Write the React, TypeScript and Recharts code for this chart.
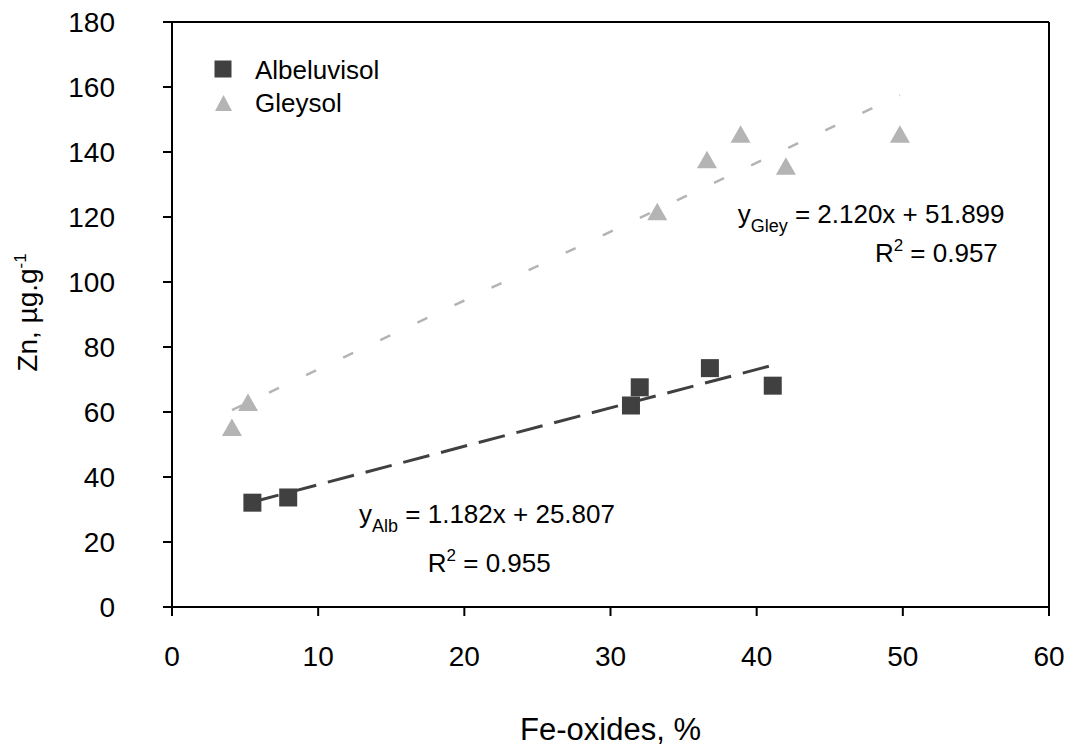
import { ScatterChart, Scatter, XAxis, YAxis, ReferenceLine, ReferenceDot, Legend } from 'recharts';

const FONT = '"Liberation Sans", Arial, sans-serif';

const xTicks = [0, 10, 20, 30, 40, 50, 60];
const yTicks = [0, 20, 40, 60, 80, 100, 120, 140, 160, 180];

// Albeluvisol samples
const albFe = [5.5, 7.95, 31.4, 32.0, 36.8, 41.1];
const albZn = [32.1, 33.7, 62.0, 67.6, 73.5, 68.1];

// Gleysol samples
const gleyFe = [4.1, 5.2, 33.2, 36.6, 38.9, 42.0, 49.8];
const gleyZn = [55.2, 62.9, 121.6, 137.6, 145.5, 135.6, 145.5];

// fitted lines as printed on the chart
const albFit = { slope: 1.182, intercept: 25.807, r2: '0.955' };
const gleyFit = { slope: 2.12, intercept: 51.899, r2: '0.957' };

const ALB_COLOR = '#404040';
const GLEY_COLOR = '#b4b4b4';

const albData = albFe.map((x, i) => ({ x, y: albZn[i] }));
const gleyData = gleyFe.map((x, i) => ({ x, y: gleyZn[i] }));

const trend = (xs: number[], fit: { slope: number; intercept: number }) => {
  const lo = Math.min(...xs);
  const hi = Math.max(...xs);
  return [
    { x: lo, y: fit.slope * lo + fit.intercept },
    { x: hi, y: fit.slope * hi + fit.intercept },
  ];
};

const albTrend = trend(albFe, albFit);
const gleyTrend = trend(gleyFe, gleyFit);

const Square = (props: any) => {
  const { cx, cy } = props;
  return <rect x={cx - 9} y={cy - 9} width={18} height={18} fill={ALB_COLOR} />;
};

const Triangle = (props: any) => {
  const { cx, cy } = props;
  return (
    <polygon
      points={`${cx},${cy - 9} ${cx + 10},${cy + 8.5} ${cx - 10},${cy + 8.5}`}
      fill={GLEY_COLOR}
    />
  );
};

const NoShape = () => <g />;

const EquationLabel = ({ viewBox, sub, rest }: any) => {
  const x = viewBox.x + viewBox.width / 2;
  const y = viewBox.y + viewBox.height / 2;
  return (
    <text x={x} y={y} fontFamily={FONT} fontSize={26} fill="#000">
      y
      <tspan dy={9} fontSize={18}>
        {sub}
      </tspan>
      <tspan dy={-9} fontSize={26}>
        {rest}
      </tspan>
    </text>
  );
};

const R2Label = ({ viewBox, value, anchor }: any) => {
  const x = viewBox.x + viewBox.width / 2;
  const y = viewBox.y + viewBox.height / 2;
  return (
    <text x={x} y={y} fontFamily={FONT} fontSize={26} fill="#000" textAnchor={anchor}>
      R
      <tspan dy={-11} fontSize={17}>
        2
      </tspan>
      <tspan dy={11} fontSize={26}>
        {' = ' + value}
      </tspan>
    </text>
  );
};

const LegendBox = () => (
  <div style={{ fontFamily: FONT, fontSize: 26, color: '#000' }}>
    <div style={{ display: 'flex', alignItems: 'center', height: 34 }}>
      <svg width={19} height={19} style={{ marginRight: 22 }}>
        <rect x={0.5} y={0.5} width={17} height={17} fill={ALB_COLOR} />
      </svg>
      <span style={{ lineHeight: '34px', position: 'relative', top: 1 }}>Albeluvisol</span>
    </div>
    <div style={{ display: 'flex', alignItems: 'center', height: 34 }}>
      <svg width={19} height={19} style={{ marginRight: 22 }}>
        <polygon points="9.5,1 18,17 1,17" fill={GLEY_COLOR} />
      </svg>
      <span style={{ lineHeight: '34px' }}>Gleysol</span>
    </div>
  </div>
);

const App = () => {
  return (
    <div style={{ position: 'absolute', left: 0, top: 0, background: '#fff' }}>
      <ScatterChart
        width={1071}
        height={748}
        margin={{ top: 22, right: 22, bottom: 0, left: 0 }}
      >
        <XAxis
          type="number"
          dataKey="x"
          domain={[0, 60]}
          ticks={xTicks}
          interval={0}
          tickSize={9}
          tickMargin={30}
          height={141}
          axisLine={{ stroke: '#000', strokeWidth: 2 }}
          tickLine={{ stroke: '#000', strokeWidth: 2 }}
          tick={{ fill: '#000', fontSize: 28, fontFamily: FONT }}
          label={{
            content: ({ viewBox }: any) => (
              <text
                x={viewBox.x + viewBox.width / 2}
                y={viewBox.y + 133}
                textAnchor="middle"
                fontFamily={FONT}
                fontSize={31}
                fill="#000"
              >
                Fe-oxides, %
              </text>
            ),
          }}
        />
        <YAxis
          type="number"
          dataKey="y"
          domain={[0, 180]}
          ticks={yTicks}
          interval={0}
          tickSize={9}
          tickMargin={48}
          width={172}
          axisLine={{ stroke: '#000', strokeWidth: 2 }}
          tickLine={{ stroke: '#000', strokeWidth: 2 }}
          tick={{ fill: '#000', fontSize: 28, fontFamily: FONT }}
          label={{
            content: ({ viewBox }: any) => {
              const cx = 37;
              const cy = viewBox.y + viewBox.height / 2 - 2;
              return (
                <text
                  x={cx}
                  y={cy}
                  transform={`rotate(-90 ${cx} ${cy})`}
                  textAnchor="middle"
                  fontFamily={FONT}
                  fontSize={28}
                  fill="#000"
                >
                  Zn, µg.g
                  <tspan dy={-11} fontSize={17}>
                    -1
                  </tspan>
                </text>
              );
            },
          }}
        />
        <ReferenceLine y={180} stroke="#000" strokeWidth={2} />
        <ReferenceLine x={60} stroke="#000" strokeWidth={2} />

        <Scatter
          name="Albeluvisol"
          data={albData}
          shape={Square}
          isAnimationActive={false}
        />
        <Scatter
          name="Gleysol"
          data={gleyData}
          shape={Triangle}
          isAnimationActive={false}
        />
        <Scatter
          data={albTrend}
          shape={NoShape}
          line={{ stroke: ALB_COLOR, strokeWidth: 3, strokeDasharray: '27 12' }}
          legendType="none"
          isAnimationActive={false}
        />
        <Scatter
          data={gleyTrend}
          shape={NoShape}
          line={{ stroke: GLEY_COLOR, strokeWidth: 2.5, strokeDasharray: '11 30' }}
          legendType="none"
          isAnimationActive={false}
        />

        <ReferenceDot
          x={38.7}
          y={118.2}
          r={1}
          fill="none"
          stroke="none"
          label={{
            content: (p: any) => (
              <EquationLabel viewBox={p.viewBox} sub="Gley" rest=" = 2.120x + 51.899" />
            ),
          }}
        />
        <ReferenceDot
          x={56.5}
          y={106.2}
          r={1}
          fill="none"
          stroke="none"
          label={{
            content: (p: any) => <R2Label viewBox={p.viewBox} value={gleyFit.r2} anchor="end" />,
          }}
        />
        <ReferenceDot
          x={12.8}
          y={25.9}
          r={1}
          fill="none"
          stroke="none"
          label={{
            content: (p: any) => (
              <EquationLabel viewBox={p.viewBox} sub="Alb" rest=" = 1.182x + 25.807" />
            ),
          }}
        />
        <ReferenceDot
          x={17.5}
          y={10.8}
          r={1}
          fill="none"
          stroke="none"
          label={{
            content: (p: any) => <R2Label viewBox={p.viewBox} value={albFit.r2} anchor="start" />,
          }}
        />

        <Legend
          layout="horizontal"
          verticalAlign="middle"
          align="center"
          wrapperStyle={{ top: 52, left: 214, width: 'auto' }}
          content={() => <LegendBox />}
        />
      </ScatterChart>
    </div>
  );
};

export default App;
